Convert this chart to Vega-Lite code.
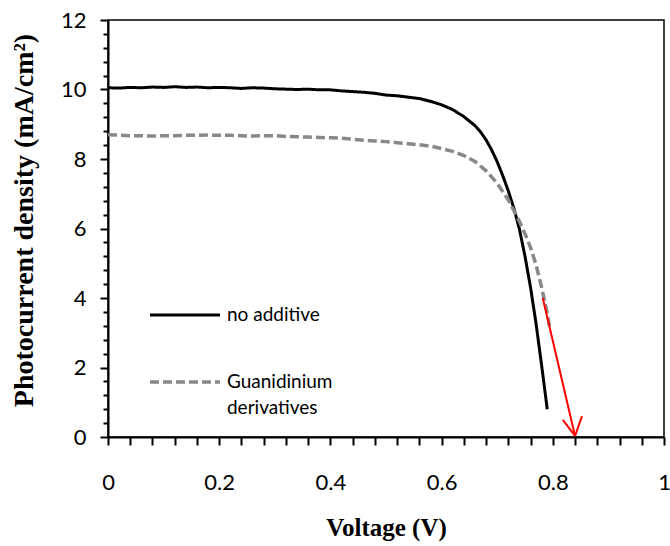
{
  "$schema": "https://vega.github.io/schema/vega-lite/v6.json",
  "width": 556,
  "height": 417,
  "autosize": {"type": "none"},
  "padding": {"left": 108, "top": 20, "right": 6, "bottom": 109},
  "background": "white",
  "config": {
    "view": {"stroke": "black", "strokeWidth": 1.5},
    "font": "Lato"
  },
  "datasets": {
    "curves": [
      {"series": "no additive", "v": 0, "j": 10.05}, {"series": "no additive", "v": 0.02, "j": 10.04}, {"series": "no additive", "v": 0.04, "j": 10.06}, {"series": "no additive", "v": 0.06, "j": 10.05}, {"series": "no additive", "v": 0.08, "j": 10.07}, {"series": "no additive", "v": 0.1, "j": 10.06}, {"series": "no additive", "v": 0.12, "j": 10.08}, {"series": "no additive", "v": 0.14, "j": 10.06}, {"series": "no additive", "v": 0.16, "j": 10.07}, {"series": "no additive", "v": 0.18, "j": 10.05}, {"series": "no additive", "v": 0.2, "j": 10.06}, {"series": "no additive", "v": 0.22, "j": 10.05}, {"series": "no additive", "v": 0.24, "j": 10.03}, {"series": "no additive", "v": 0.26, "j": 10.05}, {"series": "no additive", "v": 0.28, "j": 10.04}, {"series": "no additive", "v": 0.3, "j": 10.02}, {"series": "no additive", "v": 0.32, "j": 10.01}, {"series": "no additive", "v": 0.34, "j": 10.0}, {"series": "no additive", "v": 0.36, "j": 10.01}, {"series": "no additive", "v": 0.38, "j": 9.99}, {"series": "no additive", "v": 0.4, "j": 9.99}, {"series": "no additive", "v": 0.42, "j": 9.96}, {"series": "no additive", "v": 0.44, "j": 9.94}, {"series": "no additive", "v": 0.46, "j": 9.92}, {"series": "no additive", "v": 0.48, "j": 9.89}, {"series": "no additive", "v": 0.5, "j": 9.84}, {"series": "no additive", "v": 0.52, "j": 9.82}, {"series": "no additive", "v": 0.54, "j": 9.78}, {"series": "no additive", "v": 0.56, "j": 9.74}, {"series": "no additive", "v": 0.58, "j": 9.66}, {"series": "no additive", "v": 0.6, "j": 9.56}, {"series": "no additive", "v": 0.62, "j": 9.42}, {"series": "no additive", "v": 0.64, "j": 9.22}, {"series": "no additive", "v": 0.66, "j": 8.96}, {"series": "no additive", "v": 0.67, "j": 8.78}, {"series": "no additive", "v": 0.68, "j": 8.55}, {"series": "no additive", "v": 0.69, "j": 8.26}, {"series": "no additive", "v": 0.7, "j": 7.92}, {"series": "no additive", "v": 0.71, "j": 7.52}, {"series": "no additive", "v": 0.72, "j": 7.08}, {"series": "no additive", "v": 0.73, "j": 6.58}, {"series": "no additive", "v": 0.74, "j": 5.98}, {"series": "no additive", "v": 0.75, "j": 5.2}, {"series": "no additive", "v": 0.76, "j": 4.3}, {"series": "no additive", "v": 0.77, "j": 3.25}, {"series": "no additive", "v": 0.78, "j": 2.05}, {"series": "no additive", "v": 0.79, "j": 0.8},
      {"series": "Guanidinium derivatives", "v": 0, "j": 8.7}, {"series": "Guanidinium derivatives", "v": 0.02, "j": 8.69}, {"series": "Guanidinium derivatives", "v": 0.04, "j": 8.67}, {"series": "Guanidinium derivatives", "v": 0.06, "j": 8.67}, {"series": "Guanidinium derivatives", "v": 0.08, "j": 8.66}, {"series": "Guanidinium derivatives", "v": 0.1, "j": 8.67}, {"series": "Guanidinium derivatives", "v": 0.12, "j": 8.67}, {"series": "Guanidinium derivatives", "v": 0.14, "j": 8.68}, {"series": "Guanidinium derivatives", "v": 0.16, "j": 8.68}, {"series": "Guanidinium derivatives", "v": 0.18, "j": 8.69}, {"series": "Guanidinium derivatives", "v": 0.2, "j": 8.68}, {"series": "Guanidinium derivatives", "v": 0.22, "j": 8.68}, {"series": "Guanidinium derivatives", "v": 0.24, "j": 8.67}, {"series": "Guanidinium derivatives", "v": 0.26, "j": 8.66}, {"series": "Guanidinium derivatives", "v": 0.28, "j": 8.67}, {"series": "Guanidinium derivatives", "v": 0.3, "j": 8.67}, {"series": "Guanidinium derivatives", "v": 0.32, "j": 8.65}, {"series": "Guanidinium derivatives", "v": 0.34, "j": 8.64}, {"series": "Guanidinium derivatives", "v": 0.36, "j": 8.63}, {"series": "Guanidinium derivatives", "v": 0.38, "j": 8.62}, {"series": "Guanidinium derivatives", "v": 0.4, "j": 8.61}, {"series": "Guanidinium derivatives", "v": 0.42, "j": 8.6}, {"series": "Guanidinium derivatives", "v": 0.44, "j": 8.57}, {"series": "Guanidinium derivatives", "v": 0.46, "j": 8.54}, {"series": "Guanidinium derivatives", "v": 0.48, "j": 8.52}, {"series": "Guanidinium derivatives", "v": 0.5, "j": 8.5}, {"series": "Guanidinium derivatives", "v": 0.52, "j": 8.47}, {"series": "Guanidinium derivatives", "v": 0.54, "j": 8.44}, {"series": "Guanidinium derivatives", "v": 0.56, "j": 8.41}, {"series": "Guanidinium derivatives", "v": 0.58, "j": 8.37}, {"series": "Guanidinium derivatives", "v": 0.6, "j": 8.3}, {"series": "Guanidinium derivatives", "v": 0.62, "j": 8.22}, {"series": "Guanidinium derivatives", "v": 0.64, "j": 8.1}, {"series": "Guanidinium derivatives", "v": 0.66, "j": 7.93}, {"series": "Guanidinium derivatives", "v": 0.68, "j": 7.66}, {"series": "Guanidinium derivatives", "v": 0.7, "j": 7.3}, {"series": "Guanidinium derivatives", "v": 0.72, "j": 6.82}, {"series": "Guanidinium derivatives", "v": 0.74, "j": 6.2}, {"series": "Guanidinium derivatives", "v": 0.75, "j": 5.85}, {"series": "Guanidinium derivatives", "v": 0.76, "j": 5.45}, {"series": "Guanidinium derivatives", "v": 0.77, "j": 4.95}, {"series": "Guanidinium derivatives", "v": 0.78, "j": 4.3}, {"series": "Guanidinium derivatives", "v": 0.79, "j": 3.55}, {"series": "Guanidinium derivatives", "v": 0.795, "j": 3.1}
    ],
    "legendLines": [
      {"series": "no additive", "v": 0.0755, "j": 3.51},
      {"series": "no additive", "v": 0.2014, "j": 3.51},
      {"series": "Guanidinium derivatives", "v": 0.0755, "j": 1.58},
      {"series": "Guanidinium derivatives", "v": 0.2014, "j": 1.58}
    ],
    "legendText": [
      {"label": "no additive", "v": 0.214, "j": 3.51},
      {"label": "Guanidinium", "v": 0.214, "j": 1.58},
      {"label": "derivatives", "v": 0.214, "j": 0.83}
    ],
    "arrow": [
      {"part": "shaft", "v": 0.782, "j": 4.0},
      {"part": "shaft", "v": 0.84, "j": 0.03},
      {"part": "headL", "v": 0.818, "j": 0.49},
      {"part": "headL", "v": 0.84, "j": 0.03},
      {"part": "headR", "v": 0.8525, "j": 0.6},
      {"part": "headR", "v": 0.84, "j": 0.03}
    ]
  },
  "layer": [
    {
      "data": {"name": "curves"},
      "mark": {"type": "line", "clip": true},
      "encoding": {
        "x": {
          "field": "v", "type": "quantitative",
          "scale": {"domain": [0, 1], "nice": false, "zero": false},
          "axis": {
            "title": "Voltage (V)",
            "titleFont": "Liberation Serif", "titleFontWeight": "bold", "titleFontSize": 25, "titleColor": "black",
            "titlePadding": 22,
            "values": [0, 0.04, 0.08, 0.12, 0.16, 0.2, 0.24, 0.28, 0.32, 0.36, 0.4, 0.44, 0.48, 0.52, 0.56, 0.6, 0.64, 0.68, 0.72, 0.76, 0.8, 0.84, 0.88, 0.92, 0.96, 1],
            "tickCount": 200,
            "format": "~g",
            "labelExpr": "abs(round(datum.value*5) - datum.value*5) < 0.01 ? datum.label : ''",
            "labelFont": "Lato", "labelFontSize": 22, "labelColor": "black", "labelPadding": 27,
            "labelFlush": false, "labelOverlap": false,
            "grid": false, "domainColor": "black", "domainWidth": 2,
            "tickColor": "black", "tickWidth": 2, "tickSize": 8
          }
        },
        "y": {
          "field": "j", "type": "quantitative",
          "scale": {"domain": [0, 12], "nice": false},
          "axis": {
            "title": "Photocurrent density (mA/cm²)",
            "titleFont": "Liberation Serif", "titleFontWeight": "bold", "titleFontSize": 28, "titleColor": "black",
            "titlePadding": 22, "titleY": 200,
            "values": [0, 0.4, 0.8, 1.2, 1.6, 2, 2.4, 2.8, 3.2, 3.6, 4, 4.4, 4.8, 5.2, 5.6, 6, 6.4, 6.8, 7.2, 7.6, 8, 8.4, 8.8, 9.2, 9.6, 10, 10.4, 10.8, 11.2, 11.6, 12],
            "tickCount": 200,
            "format": "~g",
            "labelExpr": "abs(round(datum.value/2) - datum.value/2) < 0.01 ? datum.label : ''",
            "labelFont": "Lato", "labelFontSize": 22, "labelColor": "black", "labelPadding": 14,
            "labelFlush": false, "labelOverlap": false,
            "grid": false, "domainColor": "black", "domainWidth": 2,
            "tickColor": "black", "tickWidth": 2,
            "tickSize": {"condition": {"test": "abs(round(datum.value/2) - datum.value/2) < 0.01", "value": 8}, "value": 5}
          }
        },
        "detail": {"field": "series"},
        "color": {"field": "series", "type": "nominal", "scale": {"domain": ["no additive", "Guanidinium derivatives"], "range": ["black", "#888888"]}, "legend": null},
        "strokeDash": {"field": "series", "type": "nominal", "scale": {"domain": ["no additive", "Guanidinium derivatives"], "range": [[1, 0], [9, 4]]}, "legend": null},
        "strokeWidth": {"field": "series", "type": "nominal", "scale": {"domain": ["no additive", "Guanidinium derivatives"], "range": [3, 3.5]}, "legend": null}
      }
    },
    {
      "data": {"name": "legendLines"},
      "mark": {"type": "line"},
      "encoding": {
        "x": {"field": "v", "type": "quantitative"},
        "y": {"field": "j", "type": "quantitative"},
        "detail": {"field": "series"},
        "color": {"field": "series", "type": "nominal", "legend": null},
        "strokeDash": {"field": "series", "type": "nominal", "legend": null},
        "strokeWidth": {"field": "series", "type": "nominal", "legend": null}
      }
    },
    {
      "data": {"name": "legendText"},
      "mark": {"type": "text", "align": "left", "baseline": "middle", "font": "Lato", "fontSize": 19, "color": "black"},
      "encoding": {
        "x": {"field": "v", "type": "quantitative"},
        "y": {"field": "j", "type": "quantitative"},
        "text": {"field": "label"}
      }
    },
    {
      "data": {"name": "arrow"},
      "mark": {"type": "line", "color": "#ff0000", "strokeWidth": 2},
      "encoding": {
        "x": {"field": "v", "type": "quantitative"},
        "y": {"field": "j", "type": "quantitative"},
        "detail": {"field": "part"}
      }
    }
  ]
}
